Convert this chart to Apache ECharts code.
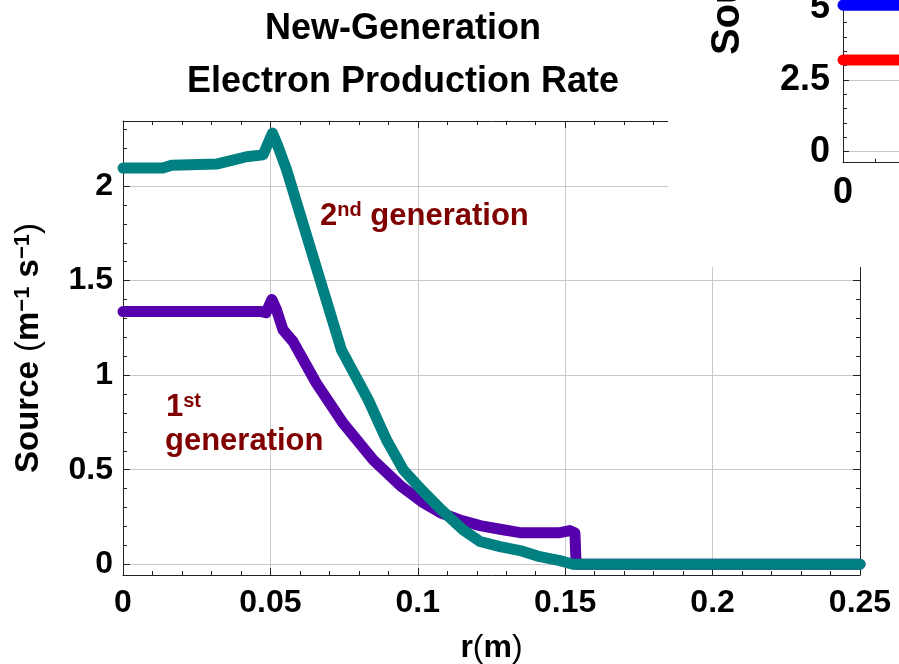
<!DOCTYPE html>
<html>
<head>
<meta charset="utf-8">
<title>New-Generation Electron Production Rate</title>
<script src="https://cdn.jsdelivr.net/npm/echarts@6.0.0/dist/echarts.min.js"></script>
<style>
  html, body { margin: 0; padding: 0; background: #fff; }
  #chart { width: 899px; height: 664px; }
</style>
</head>
<body>
<div id="chart"></div>
<script>
// values: r in metres, source in m^-1 s^-1
const r1 = [0, 0.047, 0.0485, 0.0505, 0.0521, 0.0543, 0.0577, 0.0656, 0.0747, 0.0849, 0.0945, 0.1013, 0.108, 0.1143, 0.1211, 0.1279, 0.1347, 0.1482, 0.1516, 0.1533, 0.1537, 0.25];
const gen1 = [1.336, 1.336, 1.33, 1.40, 1.344, 1.239, 1.177, 0.957, 0.745, 0.551, 0.41, 0.331, 0.27, 0.234, 0.204, 0.185, 0.167, 0.167, 0.178, 0.165, 0, 0];

const r2 = [0, 0.0135, 0.0165, 0.0317, 0.0419, 0.0475, 0.0507, 0.0526, 0.0555, 0.0741, 0.0832, 0.0894, 0.0951, 0.1013, 0.108, 0.1153, 0.1211, 0.1279, 0.1347, 0.1414, 0.1482, 0.1526, 0.25];
const gen2 = [2.095, 2.095, 2.11, 2.116, 2.155, 2.165, 2.28, 2.208, 2.085, 1.133, 0.869, 0.657, 0.499, 0.393, 0.288, 0.182, 0.12, 0.093, 0.072, 0.04, 0.019, 0, 0];

const xMajor = [0, 0.05, 0.1, 0.15, 0.2, 0.25];
const yMajor = [0, 0.5, 1, 1.5, 2];

// the inset plot that overlaps the top right corner
const insetR = [0, 10];
const insetBlue = [5.11, 5.11];
const insetRed = [3.2, 3.2];
const insetXMajor = [0];
const insetYMajor = [0, 2.5, 5];

function steps(from, to, step) {
  const out = [];
  for (let i = 0; from + i * step <= to + 1e-9; i++) out.push(+(from + i * step).toFixed(4));
  return out;
}
const xMinor = steps(0, 0.25, 0.01);
const yMinor = steps(0, 2.3, 0.1);
const insetXMinor = steps(1, 9, 1);
const insetYMinor = steps(0, 5, 0.5);

const FONT = '"Liberation Sans", Arial, Helvetica, sans-serif';
const FRAME = '#222';
const GRID_LINE = '#c8c8c8';
const LABEL_RED = '#800000';

function pairs(xs, ys) {
  return xs.map((x, i) => [x, ys[i]]);
}

function axis(gridIndex, position, min, max, extra) {
  return Object.assign({
    type: 'value', gridIndex, position, min, max,
    axisLine: { show: false, onZero: false },
    axisTick: { show: false },
    axisLabel: { show: false },
    splitLine: { show: false },
    nameMoveOverlap: false
  }, extra);
}

function ticks(values, len) {
  return { show: true, inside: true, length: len, customValues: values, lineStyle: { color: FRAME, width: 1 } };
}

function frameLine() {
  return { show: true, onZero: false, lineStyle: { color: FRAME, width: 1 } };
}

function labels(values, size, margin) {
  return { show: true, customValues: values, margin, color: '#000', fontSize: size, fontWeight: 'bold', fontFamily: FONT };
}

const X0 = 0, X1 = 0.25, Y0 = -0.057, Y1 = 2.344;
const IY0 = -0.384, IY1 = 5.29;

const chart = echarts.init(document.getElementById('chart'), null, { renderer: 'canvas' });

const option = {
  animation: false,
  backgroundColor: '#fff',
  title: {
    text: 'New-Generation\nElectron Production Rate',
    left: 403, top: 3, padding: 0, textAlign: 'center',
    textStyle: { color: '#000', fontSize: 36, fontWeight: 'bold', fontFamily: FONT, lineHeight: 53 }
  },
  grid: [
    { left: 123, right: 39, top: 121, bottom: 89, outerBoundsMode: 'none' },
    { left: 843, top: 0, width: 320, height: 162.7, outerBoundsMode: 'none' }
  ],
  xAxis: [
    axis(0, 'bottom', X0, X1, {
      axisTick: ticks(xMajor, 7),
      axisLabel: labels(xMajor, 32, 12),
      splitLine: { show: true, lineStyle: { color: GRID_LINE, width: 1 } },
      name: '{b|r}{n|(}{b|m}{n|)}',
      nameLocation: 'middle', nameGap: 57,
      nameTextStyle: {
        color: '#000', fontSize: 32, fontFamily: FONT,
        rich: {
          b: { fontSize: 32, fontWeight: 'bold', fontFamily: FONT, color: '#000' },
          n: { fontSize: 32, fontWeight: 'normal', fontFamily: FONT, color: '#000' }
        }
      }
    }),
    axis(0, 'bottom', X0, X1, { z: 1, axisLine: frameLine(), axisTick: ticks(xMinor, 4) }),
    axis(0, 'top', X0, X1, { axisTick: ticks(xMajor, 7) }),
    axis(0, 'top', X0, X1, { z: 1, axisLine: frameLine(), axisTick: ticks(xMinor, 4) }),
    axis(1, 'bottom', 0, 10, {
      z: 20,
      axisLine: frameLine(),
      axisTick: ticks(insetXMinor, 4),
      axisLabel: labels(insetXMajor, 36, 12)
    })
  ],
  yAxis: [
    axis(0, 'left', Y0, Y1, {
      axisTick: ticks(yMajor, 7),
      axisLabel: labels(yMajor, 32, 10),
      splitLine: { show: true, lineStyle: { color: GRID_LINE, width: 1 } },
      name: '{b|Source }{n|(}{b|m}{s|\u22121}{b| s}{s|\u22121}{n|)}',
      nameLocation: 'middle', nameGap: 78,
      nameTextStyle: {
        color: '#000', fontSize: 33, fontFamily: FONT,
        rich: {
          b: { fontSize: 33, fontWeight: 'bold', fontFamily: FONT, color: '#000' },
          n: { fontSize: 33, fontWeight: 'normal', fontFamily: FONT, color: '#000' },
          s: { fontSize: 22, fontWeight: 'bold', fontFamily: FONT, color: '#000', verticalAlign: 'top' }
        }
      }
    }),
    axis(0, 'left', Y0, Y1, { z: 1, axisLine: frameLine(), axisTick: ticks(yMinor, 4) }),
    axis(0, 'right', Y0, Y1, { axisTick: ticks(yMajor, 7) }),
    axis(0, 'right', Y0, Y1, { z: 1, axisLine: frameLine(), axisTick: ticks(yMinor, 4) }),
    axis(1, 'left', IY0, IY1, {
      z: 20,
      axisLine: frameLine(),
      axisTick: ticks(insetYMajor, 6),
      axisLabel: labels(insetYMajor, 36, 13),
      splitLine: { show: true, lineStyle: { color: GRID_LINE, width: 1 } }
    }),
    axis(1, 'left', IY0, IY1, { z: 20, axisTick: ticks(insetYMinor, 4) })
  ],
  graphic: {
    elements: [
      // white background of the inset covers the corner of the main frame
      { type: 'rect', z: 10, silent: true, shape: { x: 668, y: 0, width: 231, height: 267 }, style: { fill: '#fff' } },
      {
        type: 'text', z: 21, silent: true, x: 748, y: 55, rotation: Math.PI / 2,
        style: { text: 'Source', fontSize: 40, fontWeight: 'bold', fontFamily: FONT, fill: '#000',
          align: 'left', verticalAlign: 'bottom', textAlign: 'left', textVerticalAlign: 'bottom' }
      },
      {
        type: 'text', z: 5, silent: true, x: 320, y: 216,
        style: {
          text: '{a|2}{s|nd}{a| generation}', fill: LABEL_RED,
          align: 'left', verticalAlign: 'middle', textAlign: 'left', textVerticalAlign: 'middle',
          rich: {
            a: { fontSize: 31, fontWeight: 'bold', fontFamily: FONT, fill: LABEL_RED },
            s: { fontSize: 20, fontWeight: 'bold', fontFamily: FONT, fill: LABEL_RED, verticalAlign: 'top' }
          }
        }
      },
      {
        type: 'text', z: 5, silent: true, x: 166, y: 407,
        style: {
          text: '{a|1}{s|st}', fill: LABEL_RED,
          align: 'left', verticalAlign: 'middle', textAlign: 'left', textVerticalAlign: 'middle',
          rich: {
            a: { fontSize: 31, fontWeight: 'bold', fontFamily: FONT, fill: LABEL_RED },
            s: { fontSize: 20, fontWeight: 'bold', fontFamily: FONT, fill: LABEL_RED, verticalAlign: 'top' }
          }
        }
      },
      {
        type: 'text', z: 5, silent: true, x: 165, y: 441,
        style: { text: 'generation', fontSize: 31, fontWeight: 'bold', fontFamily: FONT, fill: LABEL_RED,
          align: 'left', verticalAlign: 'middle', textAlign: 'left', textVerticalAlign: 'middle' }
      }
    ]
  },
  series: [
    {
      name: '1st generation', type: 'line', xAxisIndex: 0, yAxisIndex: 0,
      data: pairs(r1, gen1), symbol: 'none', clip: false, silent: true,
      lineStyle: { color: '#5500aa', width: 11, cap: 'round', join: 'round' }
    },
    {
      name: '2nd generation', type: 'line', xAxisIndex: 0, yAxisIndex: 0,
      data: pairs(r2, gen2), symbol: 'none', clip: false, silent: true,
      lineStyle: { color: '#008080', width: 11, cap: 'round', join: 'round' }
    },
    {
      name: 'inset blue', type: 'line', xAxisIndex: 4, yAxisIndex: 4, z: 25,
      data: pairs(insetR, insetBlue), symbol: 'none', clip: false, silent: true,
      lineStyle: { color: '#0000ff', width: 11, cap: 'round' }
    },
    {
      name: 'inset red', type: 'line', xAxisIndex: 4, yAxisIndex: 4, z: 25,
      data: pairs(insetR, insetRed), symbol: 'none', clip: false, silent: true,
      lineStyle: { color: '#ff0000', width: 11, cap: 'round' }
    }
  ]
};

chart.setOption(option);
window.addEventListener('resize', () => chart.resize());
</script>
</body>
</html>
